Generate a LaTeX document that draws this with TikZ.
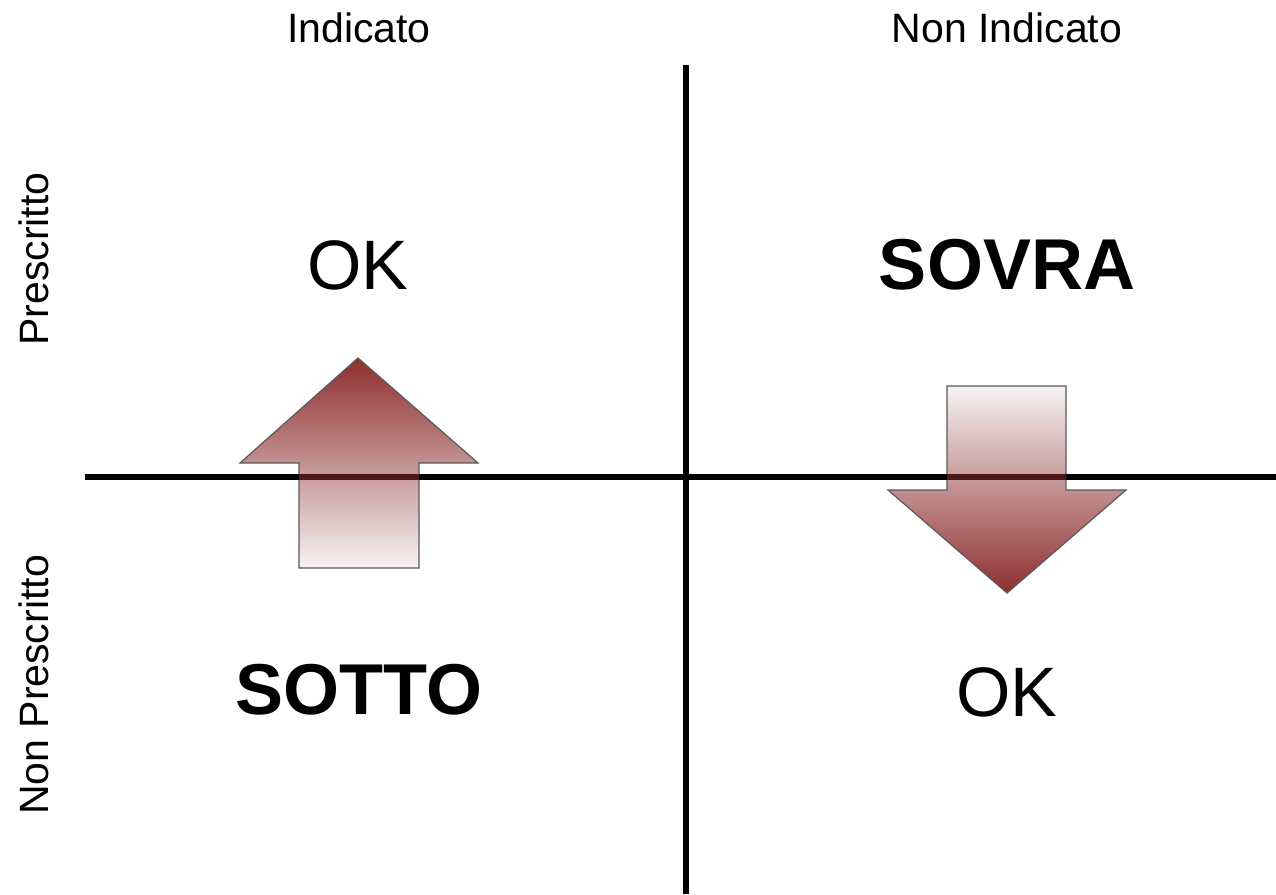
\documentclass[tikz,border=0pt]{standalone}
\usepackage{fontspec}
\setmainfont{Liberation Sans}
\definecolor{arrdark}{RGB}{142,46,46}
\definecolor{arrmid}{RGB}{180,112,112}
\definecolor{arrlight}{RGB}{246,243,243}
\definecolor{axisthru}{RGB}{78,24,24}
\begin{document}
\begin{tikzpicture}[x=1pt,y=-1pt,
  axis/.style={line width=5.5pt,black},
  head/.style={font=\fontsize{41}{48}\selectfont,anchor=base},
  big/.style={font=\fontsize{70}{80}\selectfont,anchor=base},
  bigb/.style={font=\fontsize{72}{80}\selectfont\bfseries,anchor=base},
  arr/.style={draw=black!65,line width=1.2pt,line join=miter}]
\useasboundingbox (0,0) rectangle (1276,894);
% axes
\coordinate (vt) at (686,65);
\coordinate (vb) at (686,894);
\coordinate (hl) at (85,477);
\coordinate (hr) at (1276,477);
\draw[axis] (vt) -- (vb);
% headers
\node[head] (ind) at (359,42) {Indicato};
\node[head] (nind) at (1007,42) {Non Indicato};
\node[head,rotate=90] (pre) at (48,259) {Prescritto};
\node[head,rotate=90] (npre) at (48,685) {Non Prescritto};
% quadrant labels
\node[big] (ok1) at (358,289) {OK};
\node[bigb] (sovra) at (1007,289) {SOVRA};
\node[bigb] (sotto) at (359,714) {SOTTO};
\node[big] (ok2) at (1007,716) {OK};
% up arrow
\draw[arr,top color=arrdark,middle color=arrmid,bottom color=arrlight] (358,358) -- (478,463) -- (419,463) -- (419,568) -- (299,568) -- (299,463) -- (240,463) -- cycle;
% down arrow
\draw[arr,top color=arrlight,middle color=arrmid,bottom color=arrdark] (947,386) -- (1066,386) -- (1066,490) -- (1126,490) -- (1007,593) -- (888,490) -- (947,490) -- cycle;
% horizontal axis, seen through the arrows
\draw[axis] (hl) -- (299,477);
\draw[axis] (419,477) -- (947,477);
\draw[axis] (1066,477) -- (hr);
\draw[axis,axisthru] (299,477) -- (419,477);
\draw[axis,axisthru] (947,477) -- (1066,477);
\end{tikzpicture}
\end{document}
